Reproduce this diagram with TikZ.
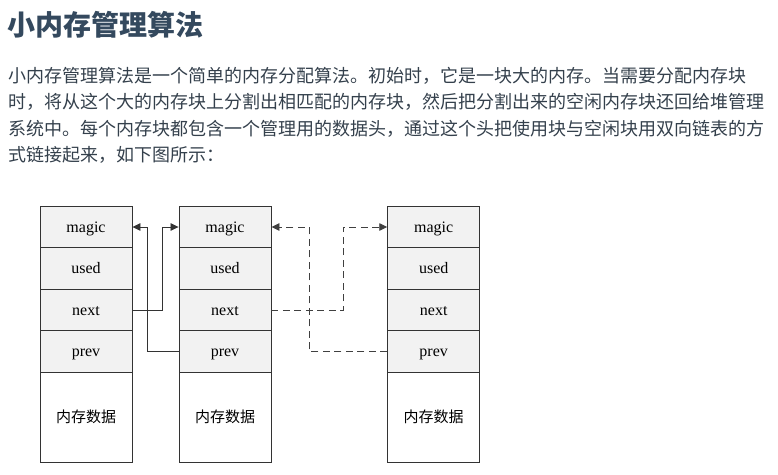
\documentclass[tikz,border=0pt]{standalone}
\usepackage{fontspec}
\newfontfamily\cjk{Noto Sans CJK SC}
\newfontfamily\tms{Liberation Serif}
\usetikzlibrary{arrows.meta}
\definecolor{titlec}{HTML}{34495E}
\definecolor{bodyc}{HTML}{34404C}
\definecolor{cellc}{HTML}{F2F2F2}
\definecolor{edgec}{HTML}{333333}
\tikzset{
  cell/.style={draw=edgec, line width=0.9pt, fill=cellc, minimum width=92pt, minimum height=41.5pt, inner sep=0pt, text height=13pt, text depth=3pt, font=\tms\fontsize{16}{16}\selectfont},
  databox/.style={draw=edgec, line width=0.9pt, fill=white, minimum width=92pt, minimum height=90pt, inner sep=0pt, font=\cjk\fontsize{15}{15}\selectfont},
  conn/.style={draw=edgec, line width=0.8pt, -{Triangle[length=8pt,width=7.5pt]}},
  dconn/.style={conn, draw=black!75, line width=0.9pt, dash pattern=on 7pt off 4.5pt},
  bodyline/.style={anchor=base west, inner sep=0pt, text=bodyc, font=\cjk\fontsize{18}{18}\selectfont},
}
\begin{document}
\begin{tikzpicture}[x=1pt,y=-1pt]
\useasboundingbox (0,0) rectangle (778,474);
\node[anchor=base west, inner sep=0pt, text=titlec, font=\cjk\bfseries\fontsize{28}{28}\selectfont] (title) at (7,35) {小内存管理算法};
\node[bodyline] (l1) at (8,82.5) {小内存管理算法是一个简单的内存分配算法。初始时，它是一块大的内存。当需要分配内存块};
\node[bodyline] (l2) at (8,108.8) {时，将从这个大的内存块上分割出相匹配的内存块，然后把分割出来的空闲内存块还回给堆管理};
\node[bodyline] (l3) at (8,135) {系统中。每个内存块都包含一个管理用的数据头，通过这个头把使用块与空闲块用双向链表的方};
\node[bodyline] (l4) at (8,161.3) {式链接起来，如下图所示：};
% blocks
\foreach \b/\x in {1/86,2/225,3/433.7}{
  \node[cell] (m\b) at (\x,227) {magic};
  \node[cell] (u\b) at (\x,268.5) {used};
  \node[cell] (n\b) at (\x,310) {next};
  \node[cell] (p\b) at (\x,351.5) {prev};
  \node[databox] (d\b) at (\x,417.25) {内存数据};
}
\coordinate (j1) at (162,310);
\coordinate (j2) at (147.5,351.5);
\coordinate (j3) at (343,310);
\coordinate (j4) at (309,351.5);
\draw[conn] (n1.east) -- (j1) |- (m2.west);
\draw[conn] (p2.west) -- (j2) |- (m1.east);
\draw[dconn] (n2.east) -- (j3) |- (m3.west);
\draw[dconn] (p3.west) -- (j4) |- (m2.east);
\end{tikzpicture}
\end{document}
